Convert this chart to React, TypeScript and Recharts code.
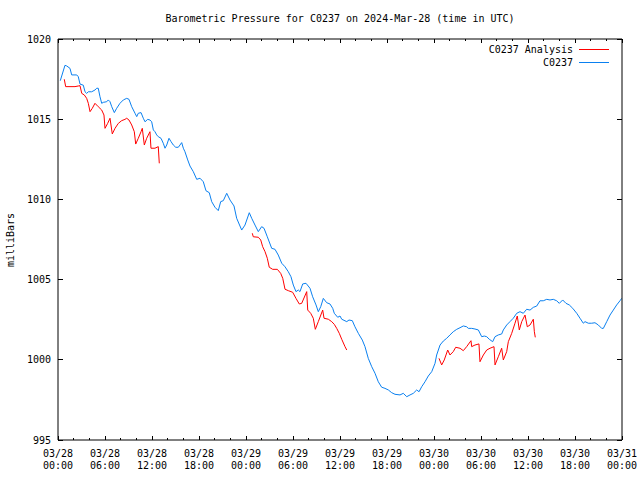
import React from 'react';
import { LineChart, Line, XAxis, YAxis } from 'recharts';

const blueHours = [0.29,0.89,1.11,1.53,1.75,2.39,2.59,2.81,3.23,3.45,3.66,3.87,4.30,4.72,4.94,5.14,5.36,5.58,5.78,6.22,6.42,6.64,6.86,7.19,7.49,7.91,8.34,8.77,9.06,9.41,9.83,10.05,10.25,10.60,10.89,11.11,11.45,11.74,11.96,12.17,12.38,12.60,12.80,13.15,13.44,13.66,13.88,14.17,14.43,14.72,15.03,15.36,15.57,15.79,16.00,16.21,16.56,16.85,17.27,17.71,18.13,18.55,18.89,19.31,19.62,20.04,20.46,20.77,21.10,21.54,21.96,22.47,22.81,23.45,23.87,24.42,24.73,25.15,25.57,26.00,26.30,26.72,27.28,27.70,28.12,28.56,28.98,29.40,29.74,30.04,30.38,30.68,30.89,31.24,31.66,32.17,32.51,32.94,33.23,33.54,33.87,34.30,34.72,35.07,35.27,35.71,36.00,36.22,36.86,37.15,37.57,37.91,38.34,38.85,39.19,39.61,40.05,40.47,40.89,41.32,41.74,42.17,42.60,43.02,43.66,44.08,44.52,44.94,45.36,45.79,46.09,46.43,46.85,47.27,47.71,48.13,48.34,48.77,49.19,49.62,50.04,50.46,50.90,51.32,51.74,52.17,52.38,52.81,53.23,53.66,54.09,54.42,54.73,55.06,55.49,55.79,56.21,56.64,56.85,57.28,57.70,58.12,58.56,58.98,59.40,59.83,60.26,60.68,61.11,61.53,61.95,62.39,62.81,63.23,63.66,64.00,64.43,64.85,65.27,65.71,66.22,66.64,67.06,67.28,67.70,68.13,68.55,68.98,69.41,69.62,70.05,70.47,70.89,71.32,71.74,71.96];
const bluePressure = [1017.40,1018.36,1018.32,1018.17,1017.76,1017.76,1017.65,1017.19,1017.12,1016.71,1016.61,1016.71,1016.71,1016.82,1016.93,1016.93,1016.40,1015.99,1016.05,1016.09,1016.20,1016.09,1015.78,1015.41,1015.68,1015.99,1016.20,1016.30,1016.24,1015.78,1015.37,1015.16,1015.37,1015.41,1015.06,1014.84,1014.99,1014.95,1014.84,1014.33,1014.22,1014.02,1013.91,1013.81,1013.50,1013.19,1013.39,1013.81,1013.60,1013.39,1013.25,1013.25,1013.39,1013.54,1013.19,1012.97,1012.46,1012.08,1011.73,1011.25,1011.32,1011.10,1010.54,1010.42,1009.86,1009.51,1009.30,1009.86,1009.92,1010.38,1009.96,1009.59,1008.82,1008.09,1008.40,1009.17,1008.82,1008.40,1007.99,1008.30,1008.20,1007.67,1006.95,1006.89,1006.53,1006.02,1005.80,1005.49,1005.18,1004.66,1004.25,1004.35,1004.25,1004.73,1004.77,1004.46,1003.93,1003.42,1003.00,1003.31,1003.83,1003.56,1003.48,1003.21,1002.90,1002.65,1002.73,1002.53,1002.38,1002.48,1002.44,1002.06,1001.65,1001.23,1000.82,1000.09,999.57,999.16,998.63,998.29,998.22,998.12,997.95,997.85,997.81,997.91,997.70,997.81,997.91,998.12,998.01,998.32,998.63,998.99,999.26,999.78,1000.30,1000.92,1001.17,1001.34,1001.55,1001.75,1001.90,1002.00,1002.11,1002.06,1001.96,1001.96,1001.92,1001.86,1001.44,1001.48,1001.44,1001.28,1001.13,1001.44,1001.55,1001.61,1001.86,1002.17,1002.38,1002.59,1002.90,1003.00,1002.90,1003.15,1003.10,1003.27,1003.35,1003.68,1003.68,1003.77,1003.73,1003.77,1003.68,1003.52,1003.73,1003.52,1003.42,1003.21,1002.90,1002.59,1002.28,1002.38,1002.28,1002.28,1002.31,1002.17,1001.96,1001.96,1002.38,1002.79,1003.10,1003.42,1003.68,1003.83];

const analysisHours = [0.80,0.98,2.17,2.59,2.81,3.03,3.36,3.66,3.87,4.09,4.38,4.72,5.14,5.58,5.87,6.00,6.34,6.64,6.93,7.28,7.70,8.13,8.55,8.77,9.06,9.41,9.74,9.92,10.25,10.60,10.76,11.02,11.32,11.74,11.87,12.38,12.80,12.93,
  18.0,
  24.80,24.93,25.57,25.88,26.13,26.43,26.72,26.97,27.41,28.00,28.43,28.69,28.98,29.40,29.96,30.38,30.80,31.11,31.75,31.88,32.26,32.59,32.85,33.23,33.79,33.96,34.51,34.94,35.27,35.58,35.91,36.22,36.64,36.86,
  42.0,
  48.64,48.98,49.31,49.75,50.04,50.46,50.77,51.32,51.74,52.17,52.72,52.81,53.23,53.74,53.87,54.30,54.73,55.15,55.66,55.79,56.21,56.64,56.85,57.28,57.49,57.92,58.34,58.63,58.89,59.20,59.62,59.91,60.26,60.68,60.81,60.93];
const analysisPressure: (number | null)[] = [1017.49,1017.03,1017.03,1017.07,1017.09,1016.61,1016.51,1016.30,1015.99,1015.47,1015.68,1015.99,1015.78,1015.57,1015.26,1014.43,1014.74,1015.06,1014.08,1014.43,1014.74,1014.91,1014.99,1015.06,1014.95,1014.64,1014.22,1013.45,1013.81,1014.22,1014.43,1013.39,1013.81,1014.22,1013.19,1013.19,1013.29,1012.25,
  null,
  1007.89,1007.67,1007.64,1007.47,1007.05,1006.74,1006.33,1005.77,1005.64,1005.64,1005.39,1005.08,1004.40,1004.31,1004.21,1003.83,1003.48,1003.52,1004.25,1003.10,1002.90,1002.59,1001.90,1002.38,1003.10,1002.59,1002.53,1002.38,1002.21,1001.96,1001.65,1001.28,1000.82,1000.61,
  null,
  1000.09,999.68,999.99,1000.61,1000.30,1000.51,1000.78,1000.72,1000.57,1000.82,1001.19,1000.82,1000.92,1000.99,999.88,1000.30,1000.61,1000.72,1000.82,999.68,1000.19,1000.72,999.99,1000.51,1001.13,1001.65,1002.28,1002.73,1001.86,1002.38,1002.79,1002.06,1002.17,1002.53,1001.75,1001.40];

const xTickHours = [0,2,4,6,8,10,12,14,16,18,20,22,24,26,28,30,32,34,36,38,40,42,44,46,48,50,52,54,56,58,60,62,64,66,68,70,72];
const xMajorHours = [0,6,12,18,24,30,36,42,48,54,60,66,72];
const xTickDates = ['03/28','03/28','03/28','03/28','03/29','03/29','03/29','03/29','03/30','03/30','03/30','03/30','03/31'];
const xTickTimes = ['00:00','06:00','12:00','18:00','00:00','06:00','12:00','18:00','00:00','06:00','12:00','18:00','00:00'];
const yTicks = [995,1000,1005,1010,1015,1020];

const seriesNames = ['C0237 Analysis', 'C0237'];
const seriesColors = ['#ff0000', '#0a80f0'];
const titleText = 'Barometric Pressure for C0237 on 2024-Mar-28 (time in UTC)';
const yLabelText = 'milliBars';

const blueData = blueHours.map((t, i) => ({ t, p: bluePressure[i] }));
const analysisData = analysisHours.map((t, i) => ({ t, p: analysisPressure[i] }));

const FONT = '"DejaVu Sans Mono", monospace';

const BottomTick = (props: any) => {
  const { x, y, payload } = props;
  const v = payload.value;
  const idx = xMajorHours.indexOf(v);
  const major = idx >= 0;
  return (
    <g>
      <line x1={x} y1={y} x2={x} y2={y - (major ? 4 : 2)} stroke="#000" shapeRendering="crispEdges" />
      {major && (
        <text x={x} y={y + 17} textAnchor="middle" fontFamily={FONT} fontSize={10} fill="#000">{xTickDates[idx]}</text>
      )}
      {major && (
        <text x={x} y={y + 29} textAnchor="middle" fontFamily={FONT} fontSize={10} fill="#000">{xTickTimes[idx]}</text>
      )}
    </g>
  );
};

const TopTick = (props: any) => {
  const { x, y, payload } = props;
  const major = xMajorHours.indexOf(payload.value) >= 0;
  return <line x1={x} y1={y} x2={x} y2={y + (major ? 4 : 2)} stroke="#000" shapeRendering="crispEdges" />;
};

const LeftTick = (props: any) => {
  const { x, y, payload } = props;
  return (
    <g>
      <line x1={x} y1={y} x2={x + 5} y2={y} stroke="#000" shapeRendering="crispEdges" />
      <text x={x - 7} y={y + 3.5} textAnchor="end" fontFamily={FONT} fontSize={10} fill="#000">{payload.value}</text>
    </g>
  );
};

const RightTick = (props: any) => {
  const { x, y } = props;
  return <line x1={x} y1={y} x2={x - 5} y2={y} stroke="#000" shapeRendering="crispEdges" />;
};

export default function App() {
  return (
    <div style={{ position: 'absolute', left: 0, top: 0, width: 640, height: 480, background: '#fff' }}>
      <LineChart width={640} height={480} margin={{ top: 0, right: 0, bottom: 0, left: 0 }}>
        <XAxis dataKey="t" type="number" domain={[0, 72]} ticks={xTickHours} interval={0} height={40}
          tickSize={0} tickMargin={0} tickLine={false} stroke="#000" tick={<BottomTick />} allowDataOverflow />
        <XAxis xAxisId="top" orientation="top" dataKey="t" type="number" domain={[0, 72]} ticks={xTickHours} interval={0} height={39}
          tickSize={0} tickMargin={0} tickLine={false} stroke="#000" tick={<TopTick />} allowDataOverflow />
        <YAxis type="number" domain={[995, 1020]} ticks={yTicks} interval={0} width={58}
          tickSize={0} tickMargin={0} tickLine={false} stroke="#000" tick={<LeftTick />} allowDataOverflow />
        <YAxis yAxisId="right" orientation="right" type="number" domain={[995, 1020]} ticks={yTicks} interval={0} width={18}
          tickSize={0} tickMargin={0} tickLine={false} stroke="#000" tick={<RightTick />} allowDataOverflow />
        <Line data={analysisData} dataKey="p" name={seriesNames[0]} stroke={seriesColors[0]} strokeWidth={1}
          dot={false} activeDot={false} isAnimationActive={false} connectNulls={false} type="linear" />
        <Line data={blueData} dataKey="p" name={seriesNames[1]} stroke={seriesColors[1]} strokeWidth={1}
          dot={false} activeDot={false} isAnimationActive={false} type="linear" />
      </LineChart>
      <div style={{ position: 'absolute', left: 0, top: 12, width: 680, textAlign: 'center', fontFamily: FONT, fontSize: 10, lineHeight: '13px', color: '#000', whiteSpace: 'pre' }}>
        {titleText}
      </div>
      <div style={{ position: 'absolute', left: 10, top: 240, fontFamily: FONT, fontSize: 10, lineHeight: '13px', color: '#000', transform: 'translate(-50%, -50%) rotate(-90deg)', whiteSpace: 'pre' }}>
        {yLabelText}
      </div>
      <div style={{ position: 'absolute', right: 31, top: 43, fontFamily: FONT, fontSize: 10, color: '#000' }}>
        {seriesNames.map((n, i) => (
          <div key={n} style={{ display: 'flex', alignItems: 'center', justifyContent: 'flex-end', height: 13, lineHeight: '13px' }}>
            <span style={{ whiteSpace: 'pre' }}>{n}</span>
            <svg width={36} height={13} style={{ display: 'block' }}>
              <line x1={6} y1={6.5} x2={36} y2={6.5} stroke={seriesColors[i]} strokeWidth={1} />
            </svg>
          </div>
        ))}
      </div>
    </div>
  );
}
